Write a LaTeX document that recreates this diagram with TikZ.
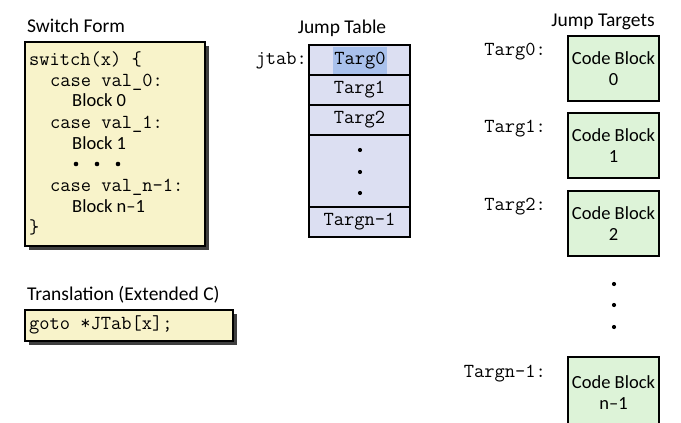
\documentclass[tikz,border=0pt]{standalone}
\usepackage{fontspec}
\setmainfont{Carlito}
\usetikzlibrary{positioning}

\definecolor{codeyellow}{HTML}{F8F3CA}
\definecolor{tabblue}{HTML}{DCDFF2}
\definecolor{tabhigh}{HTML}{A9C1EC}
\definecolor{blockgreen}{HTML}{DDF3D8}
\definecolor{shadowgray}{HTML}{3F3F3F}

\tikzset{
  title/.style={font=\fontsize{19.5}{21}\selectfont, inner sep=0pt},
  code/.style={font=\ttfamily\fontsize{19.9}{21}\selectfont, anchor=mid west, inner sep=0pt},
  plain/.style={font=\fontsize{18.5}{20}\selectfont, anchor=mid west, inner sep=0pt},
  cell/.style={draw, line width=1.2pt, fill=tabblue, minimum width=101pt, inner sep=0pt,
    font=\ttfamily\fontsize{19.9}{21}\selectfont},
  block/.style={draw, line width=1.2pt, fill=blockgreen, minimum width=91pt, minimum height=65pt,
    align=center, inner sep=0pt, font=\fontsize{18.5}{21}\selectfont},
}

\begin{document}
\begin{tikzpicture}[x=1pt, y=-1pt]
\useasboundingbox (0,0) rectangle (681,423);

% Switch form
\node [title, anchor=mid west] (swtitle) at (27,30) {Switch Form};
\fill [shadowgray] (29,46) rectangle (209,250);
\draw [line width=1.2pt, fill=codeyellow] (25,42) rectangle (205,246);
\node [code] (sw) at (29,63) {switch(x) \{};
\node [code] (case0) at (50,84) {case val\_0:};
\node [plain] (blk0) at (72,104) {Block 0};
\node [code] (case1) at (50,126) {case val\_1:};
\node [plain] (blk1) at (72,147) {Block 1};
\foreach \x in {76,97,118}
    \fill (\x,164) circle (2.3);
\node [code] (casen) at (50,189) {case val\_n-1:};
\node [plain] (blkn) at (72,210) {Block n--1};
\node [code] (swend) at (29,231) {\}};

% Translation
\node [title, anchor=mid west] (trtitle) at (27,298) {Translation (Extended C)};
\fill [shadowgray] (29,314) rectangle (237,345);
\draw [line width=1.2pt, fill=codeyellow] (25,310) rectangle (233,341);
\node [code] (jgoto) at (29,327) {goto *JTab[x];};

% Jump table
\node [title] (jttitle) at (342,28) {Jump Table};
\node [cell, minimum height=30pt] (row0) at (359.5,60) {};
\node [fill=tabhigh, minimum width=54pt, minimum height=27pt, inner sep=0pt,
    font=\ttfamily\fontsize{19.9}{21}\selectfont] (targ0) at (360,60.5) {Targ0};
\node [cell, minimum height=30pt] (row1) at (359.5,90) {Targ1};
\node [cell, minimum height=30pt] (row2) at (359.5,120) {Targ2};
\node [cell, minimum height=72pt] (rowdots) at (359.5,171) {};
\node [cell, minimum height=30pt] (rown) at (359.5,222) {Targn-1};
\foreach \y in {150,172,193}
    \fill (360,\y) circle (2.1);
\node [code, anchor=mid east] (jtab) at (307,62) {jtab:};

% Jump targets
\node [title] (tgtitle) at (603,22) {Jump Targets};
\node [block] (cb0) at (613.5,68.5) {Code Block\\0};
\node [block] (cb1) at (613.5,145.5) {Code Block\\1};
\node [block] (cb2) at (613.5,223.5) {Code Block\\2};
\node [block, minimum height=72pt] (cbn) at (613.5,393) {Code Block\\n--1};
\node [code, anchor=mid east] (lab0) at (546,53) {Targ0:};
\node [code, anchor=mid east] (lab1) at (546,130) {Targ1:};
\node [code, anchor=mid east] (lab2) at (546,208) {Targ2:};
\node [code, anchor=mid east] (labn) at (546,375) {Targn-1:};
\foreach \y in {284,305,327}
    \fill (614,\y) circle (2.1);
\end{tikzpicture}
\end{document}
